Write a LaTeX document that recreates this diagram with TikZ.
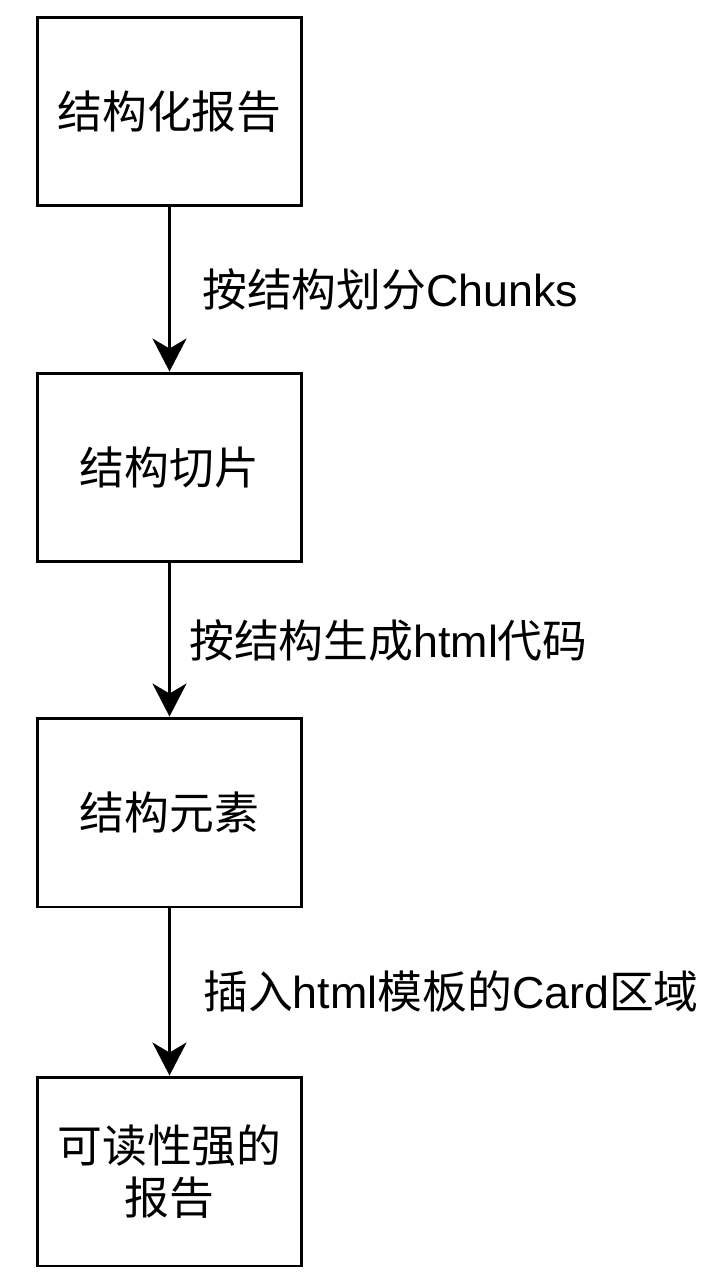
\documentclass[tikz,border=0pt]{standalone}
\usepackage{fontspec}
\setmainfont{Liberation Sans}
\newfontfamily\cjk{Noto Sans CJK SC}
\usetikzlibrary{arrows.meta}
\usetikzlibrary{positioning}
\tikzstyle{block}=[draw,line width=1.7pt,minimum width=5.28cm,minimum height=3.78cm,inner sep=0pt,align=center,font=\cjk\fontsize{25.5pt}{30pt}\selectfont]
\tikzstyle{edgelabel}=[anchor=west,inner sep=0pt,font=\fontsize{25.5pt}{30pt}\selectfont]
\tikzstyle{edge}=[draw,line width=1.7pt,-{Stealth[length=6.6mm,width=6.8mm,inset=2mm]}]

\begin{document}
\begin{tikzpicture}[x=0.02cm,y=-0.02cm]
  \useasboundingbox (0,0) rectangle (714,1279);

  % the four steps
  \foreach \y/\name/\label in {111.5/rep/结构化报告, 467.5/cut/结构切片, 812.5/elem/结构元素, 1171.5/out/{可读性强的\\报告}}
    \node[block] (\name) at (169.5,\y) {\label};

  % what happens between them
  \foreach \y/\x/\name/\label in {289.5/202/lchunk/{{\cjk 按结构划分}Chunks}, 640.5/189/lhtml/{{\cjk 按结构生成}html{\cjk 代码}}, 991.5/203/lcard/{{\cjk 插入}html{\cjk 模板的}Card{\cjk 区域}}}
    \node[edgelabel] (\name) at (\x,\y) {\label};

  \foreach \source/\dest in {rep/cut, cut/elem, elem/out}
    \draw[edge] (\source) -- (\dest);

\end{tikzpicture}
\end{document}
